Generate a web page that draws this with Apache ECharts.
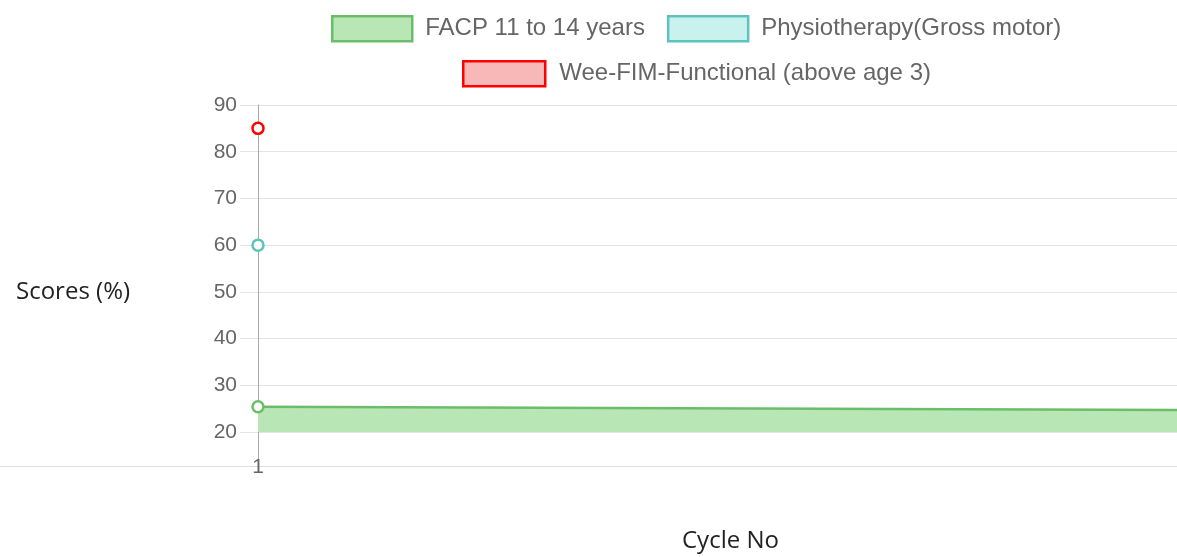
<!DOCTYPE html>
<html>
<head>
<meta charset="utf-8">
<script src="https://cdn.jsdelivr.net/npm/echarts@6/dist/echarts.min.js"></script>
<style>
html,body{margin:0;padding:0;background:#fff;}
#chart{width:1177px;height:557px;}
</style>
</head>
<body>
<div id="chart"></div>
<script>
var categories = ['1', '2'];
var facp = [25.4, 24.0];
var physio = [60, null];
var weeFim = [85, null];
var yTicks = [20, 30, 40, 50, 60, 70, 80, 90];
var seriesNames = ['FACP 11 to 14 years', 'Physiotherapy(Gross motor)', 'Wee-FIM-Functional (above age 3)'];

var chart = echarts.init(document.getElementById('chart'));
var tickFont = {color: '#666', fontSize: 21, fontFamily: 'Liberation Sans, Arial, sans-serif'};
var legendText = {color: '#666', fontSize: 24, fontFamily: 'Liberation Sans, Arial, sans-serif', padding: [0, 0, 0, 8]};

chart.setOption({
  animation: false,
  legend: [{
    left: 331, top: 15, padding: 0,
    itemWidth: 80, itemHeight: 25, itemGap: 22,
    icon: 'rect',
    textStyle: legendText,
    selectedMode: false,
    data: [
      {name: seriesNames[0], itemStyle: {color: '#b8e6b5', borderColor: '#6cbd6a', borderWidth: 2.5}},
      {name: seriesNames[1], itemStyle: {color: '#c9f2ee', borderColor: '#5cc4be', borderWidth: 2.5}}
    ]
  }, {
    left: 462, top: 60, padding: 0,
    itemWidth: 82, itemHeight: 25,
    icon: 'rect',
    textStyle: Object.assign({}, legendText, {padding: [0, 0, 0, 9]}),
    selectedMode: false,
    data: [
      {name: seriesNames[2], itemStyle: {color: '#f8b8b8', borderColor: '#ff0000', borderWidth: 2.5}}
    ]
  }],
  title: [{
    text: 'Cycle No', left: 677, top: 524,
    textStyle: {fontSize: 24, fontWeight: 'normal', color: '#222', fontFamily: 'Open Sans, sans-serif'}
  }, {
    text: 'Scores (%)', left: 11, top: 275,
    textStyle: {fontSize: 24, fontWeight: 'normal', color: '#222', fontFamily: 'Open Sans, sans-serif'}
  }],
  grid: [
    {left: 258, top: 105, width: 1838, bottom: 125, outerBoundsMode: 'none', containLabel: false},
    {left: 0, right: 0, top: 105, bottom: 91, outerBoundsMode: 'none'}
  ],
  xAxis: [{
    gridIndex: 0,
    type: 'category',
    data: categories,
    boundaryGap: false,
    offset: 34,
    axisLine: {show: false},
    axisTick: {show: true, inside: true, length: 34, lineStyle: {color: '#aaa', width: 1}},
    axisLabel: {margin: -9, color: '#666', fontSize: 21, fontFamily: 'Liberation Sans, Arial, sans-serif'},
    splitLine: {show: false}
  }, {
    gridIndex: 1,
    type: 'value',
    min: 0, max: 1,
    axisLine: {show: true, lineStyle: {color: '#dddddd', width: 1}},
    axisTick: {show: false},
    axisLabel: {show: false},
    splitLine: {show: false}
  }],
  yAxis: [{
    gridIndex: 0,
    type: 'value',
    min: yTicks[0], max: yTicks[yTicks.length - 1], interval: 10,
    axisLine: {show: true, lineStyle: {color: '#aaa', width: 1}},
    axisTick: {show: true, length: 18, lineStyle: {color: '#e3e3e3'}},
    axisLabel: Object.assign({margin: 21}, tickFont),
    splitLine: {show: true, lineStyle: {color: '#e3e3e3', width: 1}}
  }, {
    gridIndex: 1,
    type: 'value',
    show: false
  }],
  series: [{
    name: seriesNames[0],
    type: 'line',
    data: facp,
    symbol: 'circle',
    symbolSize: 11,
    itemStyle: {color: '#ffffff', borderColor: '#6cbd6a', borderWidth: 2.5},
    lineStyle: {color: '#6cbd6a', width: 2.5},
    areaStyle: {color: '#b8e6b5', opacity: 1, origin: 'start'},
    z: 2
  }, {
    name: seriesNames[1],
    type: 'line',
    data: physio,
    symbol: 'circle',
    symbolSize: 11,
    showAllSymbol: true,
    itemStyle: {color: '#ffffff', borderColor: '#5cc4be', borderWidth: 2.5},
    lineStyle: {color: '#5cc4be', width: 2.5},
    z: 3
  }, {
    name: seriesNames[2],
    type: 'line',
    data: weeFim,
    symbol: 'circle',
    symbolSize: 11,
    showAllSymbol: true,
    itemStyle: {color: '#ffffff', borderColor: '#ff0000', borderWidth: 2.5},
    lineStyle: {color: '#ff0000', width: 2.5},
    z: 4
  }]
});
</script>
</body>
</html>
